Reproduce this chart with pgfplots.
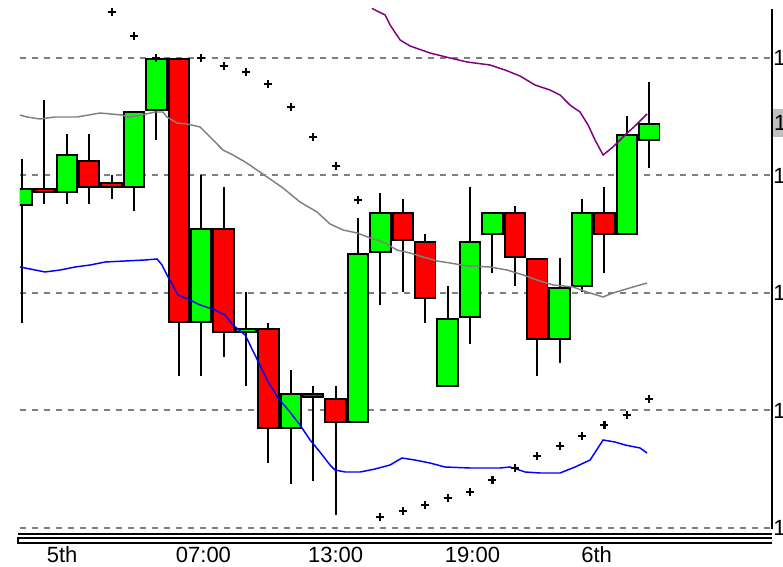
\documentclass[border=0pt]{standalone}
\usepackage{pgfplots}
\pgfplotsset{compat=1.18}
\usepackage{pgfplotstable}
\usepackage{fontspec}
\setmainfont{Liberation Sans}
\definecolor{cgreen}{HTML}{00FF00}
\definecolor{cred}{HTML}{FF0000}
\definecolor{cgray}{HTML}{808080}
\definecolor{cblue}{HTML}{0000FF}
\definecolor{cpurple}{HTML}{800080}
\definecolor{hl}{HTML}{C0C0C0}
\newcommand{\rlab}{\makebox[6.2pt][l]{1}}

% candles: index, open, high, low, close
\pgfplotstableread{
i o h l c
0 322 369 205 340
2 335 394 324 374
5 340 417 317 417
6 417 472 388 470
8 205 353 152 300
10 195 236 142 200
12 99 158 44 135
15 105 310 105 275
16 275 335 223 316
19 141 242 141 210
20 210 341 184 287
21 293 316 255 316
24 188 270 165 241
25 241 329 236 316
27 293 412 293 394
28 387 446 360 405
}\greentab

\pgfplotstableread{
i o h l c
1 340 428 324 335
3 368 394 324 340
4 346 353 329 340
7 470 470 152 205
9 300 341 171 195
11 200 205 65 99
13 135 142 47 130
14 130 142 13 105
17 316 329 236 287
18 287 294 205 229
22 316 322 242 270
23 270 270 152 188
26 316 341 255 293
}\redtab

\pgfplotstableread{
x y
-0.09 413
0.22 411
0.80 409
1.47 411
2.46 411
3.48 415
4.46 413
4.73 411
5.13 412
5.94 416
6.29 416
6.47 411
6.92 405
7.37 404
7.95 401
8.53 388
8.97 378
9.42 373
9.96 366
10.49 358
10.94 351
11.65 340
12.41 326
13.17 316
13.75 304
14.33 298
14.96 295
15.54 290
16.12 286
16.74 278
17.32 275
17.90 271
18.53 267
19.11 265
19.87 262
20.89 261
21.65 258
22.37 253
22.99 248
23.71 243
24.60 241
25.22 236
25.94 231
26.38 235
27.28 241
27.90 245
}\graytab

\pgfplotstableread{
x y
-0.09 261
0.36 259
1.03 256
1.70 258
2.37 261
3.04 263
3.71 266
4.60 267
5.49 268
6.03 269
6.25 263
6.47 253
6.70 244
6.96 233
7.50 228
7.95 223
8.62 218
9.06 213
9.42 203
9.96 193
10.40 173
10.94 148
11.43 130
11.96 116
12.41 103
12.86 88
13.30 76
13.75 63
13.97 58
14.42 56
15.09 56
15.76 59
16.43 63
16.96 70
17.54 68
18.21 65
18.88 61
20.00 60
21.34 60
21.79 61
22.46 56
23.13 55
24.02 55
24.69 61
25.36 68
25.94 88
26.47 86
26.92 83
27.59 80
27.90 75
}\bluetab

\pgfplotstableread{
x y
15.50 525
15.67 519
16.21 513
16.43 503
16.88 488
17.32 482
18.21 475
19.11 470
19.87 466
20.89 463
21.56 458
22.23 452
22.90 443
23.57 438
24.02 433
24.46 423
24.91 416
25.27 403
25.58 388
25.94 373
26.38 381
26.92 393
27.41 403
27.90 414
}\purpletab

\pgfplotstableread{
x y
4 516
5 492
6 470
8 470
9 462
10 456
11 444
12 421
13 391
14 362
15 328
16 11
17 17
18 23
19 30
20 36
21 48
22 60
23 72
24 82
25 92
26 103
27 113
28 129
}\sartab

\begin{document}
\begin{tikzpicture}
\begin{axis}[
  at={(0,0)}, anchor=south west,
  scale only axis, width=564pt, height=390pt,
  xmin=-0.09, xmax=33.48, ymin=-1, ymax=519,
  axis x line*=bottom, axis y line*=right,
  x axis line style={draw=none},
  y axis line style={-, line width=1.5pt, black},
  xtick={1.79,8.10,14.0,20.11,25.65},
  xticklabels={5th,07:00,13:00,19:00,6th},
  ytick={0,117.5,235,352.5,470},
  yticklabels={\rlab,\rlab,\rlab,\rlab,\rlab},
  major tick length=0pt,
  tick style={draw=none},
  ymajorgrids,
  major grid style={dash pattern=on 4.5pt off 4.5pt, line width=1.5pt, cgray},
  xticklabel style={font=\fontsize{16.5}{18}\selectfont, anchor=base, yshift=-25.5pt},
  yticklabel style={font=\fontsize{16.5}{18}\selectfont, anchor=west, inner sep=0pt, xshift=0.8pt},
  extra y ticks={405}, extra y tick labels={\rlab},
  extra y tick style={grid=none, yticklabel style={fill=hl, inner xsep=0.6pt, inner ysep=5pt}},
  /pgf/number format/assume math mode=true,
]
% wicks
\addplot[draw=none, mark=none, forget plot, error bars/.cd, y dir=both, y explicit, error mark=none,
  error bar style={draw=black, line width=1.5pt, solid}]
  table[x=i, y expr={(\thisrow{h}+\thisrow{l})/2}, y error expr={(\thisrow{h}-\thisrow{l})/2}] {\greentab};
\addplot[draw=none, mark=none, forget plot, error bars/.cd, y dir=both, y explicit, error mark=none,
  error bar style={draw=black, line width=1.5pt, solid}]
  table[x=i, y expr={(\thisrow{h}+\thisrow{l})/2}, y error expr={(\thisrow{h}-\thisrow{l})/2}] {\redtab};
% body outlines
\addplot[draw=none, mark=none, forget plot, error bars/.cd, y dir=both, y explicit, error mark=none,
  error bar style={draw=black, line width=16.8pt, solid}]
  table[x=i, y expr={(\thisrow{o}+\thisrow{c})/2}, y error expr={abs(\thisrow{c}-\thisrow{o})/2}] {\greentab};
\addplot[draw=none, mark=none, forget plot, error bars/.cd, y dir=both, y explicit, error mark=none,
  error bar style={draw=black, line width=16.8pt, solid}]
  table[x=i, y expr={(\thisrow{o}+\thisrow{c})/2}, y error expr={abs(\thisrow{c}-\thisrow{o})/2}] {\redtab};
% body fills
\addplot[draw=none, mark=none, forget plot, error bars/.cd, y dir=both, y explicit, error mark=none,
  error bar style={draw=cgreen, line width=13.9pt, solid}]
  table[x=i, y expr={(\thisrow{o}+\thisrow{c})/2}, y error expr={max(abs(\thisrow{c}-\thisrow{o})/2-2,0.4)}] {\greentab};
\addplot[draw=none, mark=none, forget plot, error bars/.cd, y dir=both, y explicit, error mark=none,
  error bar style={draw=cred, line width=13.9pt, solid}]
  table[x=i, y expr={(\thisrow{o}+\thisrow{c})/2}, y error expr={max(abs(\thisrow{c}-\thisrow{o})/2-2,0.4)}] {\redtab};
% moving averages
\addplot[cgray, line width=1.1pt, mark=none] table[x=x, y=y] {\graytab};
\addplot[cblue, line width=1.1pt, mark=none] table[x=x, y=y] {\bluetab};
\addplot[cpurple, line width=1.1pt, mark=none] table[x=x, y=y] {\purpletab};
% parabolic SAR
\addplot[only marks, mark=+, mark size=3pt, black, line width=1.6pt] table[x=x, y=y] {\sartab};
\end{axis}
\draw[line width=1.5pt] (-1.5pt,-3.75pt) -- (564pt,-3.75pt);
\draw[line width=1.5pt] (564pt,-6.75pt) -- (-1.5pt,-6.75pt) -- (-1.5pt,-10.5pt) -- (564pt,-10.5pt);
\pgfresetboundingbox
\useasboundingbox (-15pt,-28.5pt) rectangle (572.25pt,396.75pt);
\end{tikzpicture}
\end{document}
